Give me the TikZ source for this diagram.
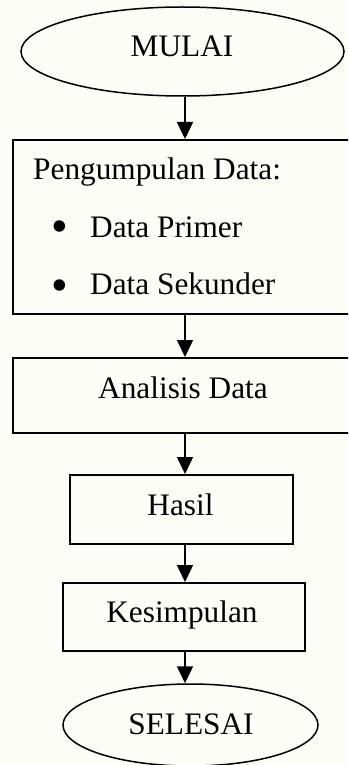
\documentclass[tikz,border=0pt]{standalone}
\usepackage{fontspec}
\setmainfont{Liberation Serif}
\usetikzlibrary{shapes.geometric,arrows.meta}
\definecolor{bg}{RGB}{253,253,247}
\begin{document}
\begin{tikzpicture}[x=1pt,y=-1pt,
  every node/.style={font=\fontsize{31.3}{36}\selectfont},
  outline/.style={draw, line width=1.5pt, inner sep=0pt},
  boxshape/.style={outline, rectangle, anchor=north west},
  oval/.style={outline, ellipse},
  txt/.style={inner sep=0pt, anchor=base},
  dot/.style={circle, fill, inner sep=0pt, minimum size=11.5pt},
  arr/.style={line width=1.6pt, -{Triangle[width=16pt,length=17pt]}}]
\fill[bg] (0,0) rectangle (348,765);
\useasboundingbox (0,0) rectangle (348,765);
\clip (0,0) rectangle (348,765);
% shapes
\node[oval, minimum width=323pt, minimum height=89pt] (mulai) at (182.5,51.5) {};
\node[boxshape, minimum width=360pt, minimum height=174pt] (kumpul) at (12,139) {};
\node[boxshape, minimum width=360pt, minimum height=75pt] (analisis) at (12,357) {};
\node[boxshape, minimum width=223pt, minimum height=69pt] (hasil) at (69,474) {};
\node[boxshape, minimum width=242pt, minimum height=68pt] (simpul) at (62,582) {};
\node[oval, minimum width=255pt, minimum height=82pt] (selesai) at (190.5,725) {};
% texts
\node[txt] (tmulai) at (182,57) {MULAI};
\node[txt, anchor=base west] (tkumpul) at (33,179) {Pengumpulan Data:};
\node[dot] (bul1) at (59.3,226) {};
\node[txt, anchor=base west] (tprimer) at (90,237) {Data Primer};
\node[dot] (bul2) at (59.3,285) {};
\node[txt, anchor=base west] (tsekunder) at (90,294) {Data Sekunder};
\node[txt] (tanalisis) at (183,398) {Analisis Data};
\node[txt] (thasil) at (180.5,515) {Hasil};
\node[txt] (tsimpul) at (182,622) {Kesimpulan};
\node[txt] (tselesai) at (191,734) {SELESAI};
% connectors
\coordinate (ax) at (185,0);
\draw[arr] (mulai.south -| ax) -- (kumpul.north -| ax);
\draw[arr] (kumpul.south -| ax) -- (analisis.north -| ax);
\draw[arr] (analisis.south -| ax) -- (hasil.north -| ax);
\draw[arr] (hasil.south -| ax) -- (simpul.north -| ax);
\draw[arr] (simpul.south -| ax) -- (selesai.north -| ax);
\end{tikzpicture}
\end{document}
